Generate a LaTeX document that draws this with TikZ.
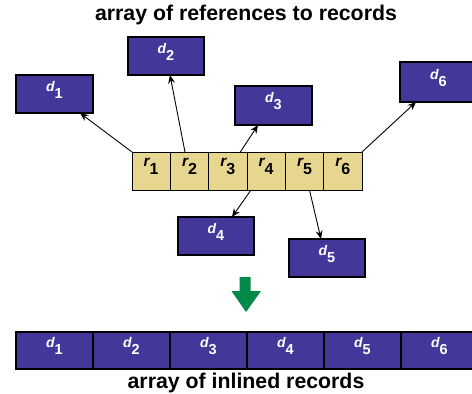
\documentclass[tikz,border=0pt]{standalone}
\usepackage{fontspec}
\setmainfont{Liberation Sans}
\usetikzlibrary{arrows.meta,calc}
\definecolor{recpurple}{RGB}{67,56,153}
\definecolor{refyellow}{RGB}{230,214,143}
\definecolor{arrgreen}{RGB}{0,137,72}
\newcommand{\dlab}[1]{\raisebox{2.8pt}[0pt][0pt]{\fontsize{14}{14}\selectfont\bfseries\itshape d\raisebox{-7pt}{\upshape\fontsize{14.5}{14.5}\selectfont #1}}}
\newcommand{\rlab}[1]{\raisebox{4.2pt}[0pt][0pt]{\fontsize{15.5}{15.5}\selectfont\bfseries\itshape r\raisebox{-8pt}{\upshape\fontsize{16}{16}\selectfont #1}}}
\tikzset{
  dbox/.style={draw=black, line width=1.1pt, fill=recpurple, text=white, minimum width=77pt, minimum height=38pt, inner sep=0pt, outer sep=0pt},
  rcell/.style={draw=black, line width=0.9pt, fill=refyellow, minimum width=38.33pt, minimum height=38pt, inner sep=0pt, outer sep=0pt},
  ptr/.style={-{Stealth[length=8.5pt,width=7pt,inset=3pt]}, line width=0.9pt},
  caption/.style={font=\fontsize{21.3}{24}\selectfont\bfseries, inner sep=0pt}
}
\begin{document}
\begin{tikzpicture}[x=1pt,y=-1pt]
\fill[white] (0,0) rectangle (472,394);
\useasboundingbox (0,0) rectangle (472,394);
% title
\node[caption] (top) at (246,15) {array of references to records};
% referenced records
\node[dbox] (d1) at (54.5,94) {\dlab{1}};
\node[dbox, minimum width=76pt] (d2) at (166,56) {\dlab{2}};
\node[dbox, minimum height=39pt] (d3) at (273.5,105.5) {\dlab{3}};
\node[dbox, minimum width=76pt] (d4) at (216,236) {\dlab{4}};
\node[dbox, minimum width=76pt] (d5) at (327,258) {\dlab{5}};
\node[dbox, minimum height=40pt] (d6) at (438.5,82) {\dlab{6}};
% reference array
\foreach \i in {1,...,6}{
  \node[rcell] (r\i) at ({132+38.33*(\i-0.5)},171) {\rlab{\i}};
}
% pointers
\draw[ptr] (r1.north west) -- ([xshift=-13pt]d1.south east);
\draw[ptr] ([xshift=-4.5pt]r2.north) -- ([xshift=4pt]d2.south);
\draw[ptr] ([xshift=12.5pt]r3.north) -- ([xshift=23pt]d3.south west);
\draw[ptr] ([xshift=4pt]r4.south west) -- ([xshift=16pt]d4.north);
\draw[ptr] ([xshift=5pt]r5.south) -- ([xshift=-6pt]d5.north);
\draw[ptr] (r6.north east) -- ([xshift=16pt]d6.south west);
% green transform arrow
\fill[arrgreen] (239.5,277) -- (250.5,277) -- (250.5,291) -- (261,291) -- (246,312) -- (231.5,291) -- (239.5,291) -- cycle;
% inlined array
\foreach \i in {1,...,6}{
  \node[dbox, minimum height=37pt] (e\i) at ({16+77*(\i-0.5)},350.5) {\dlab{\i}};
}
\node[caption] (bottom) at (246,383) {array of inlined records};
\end{tikzpicture}
\end{document}
